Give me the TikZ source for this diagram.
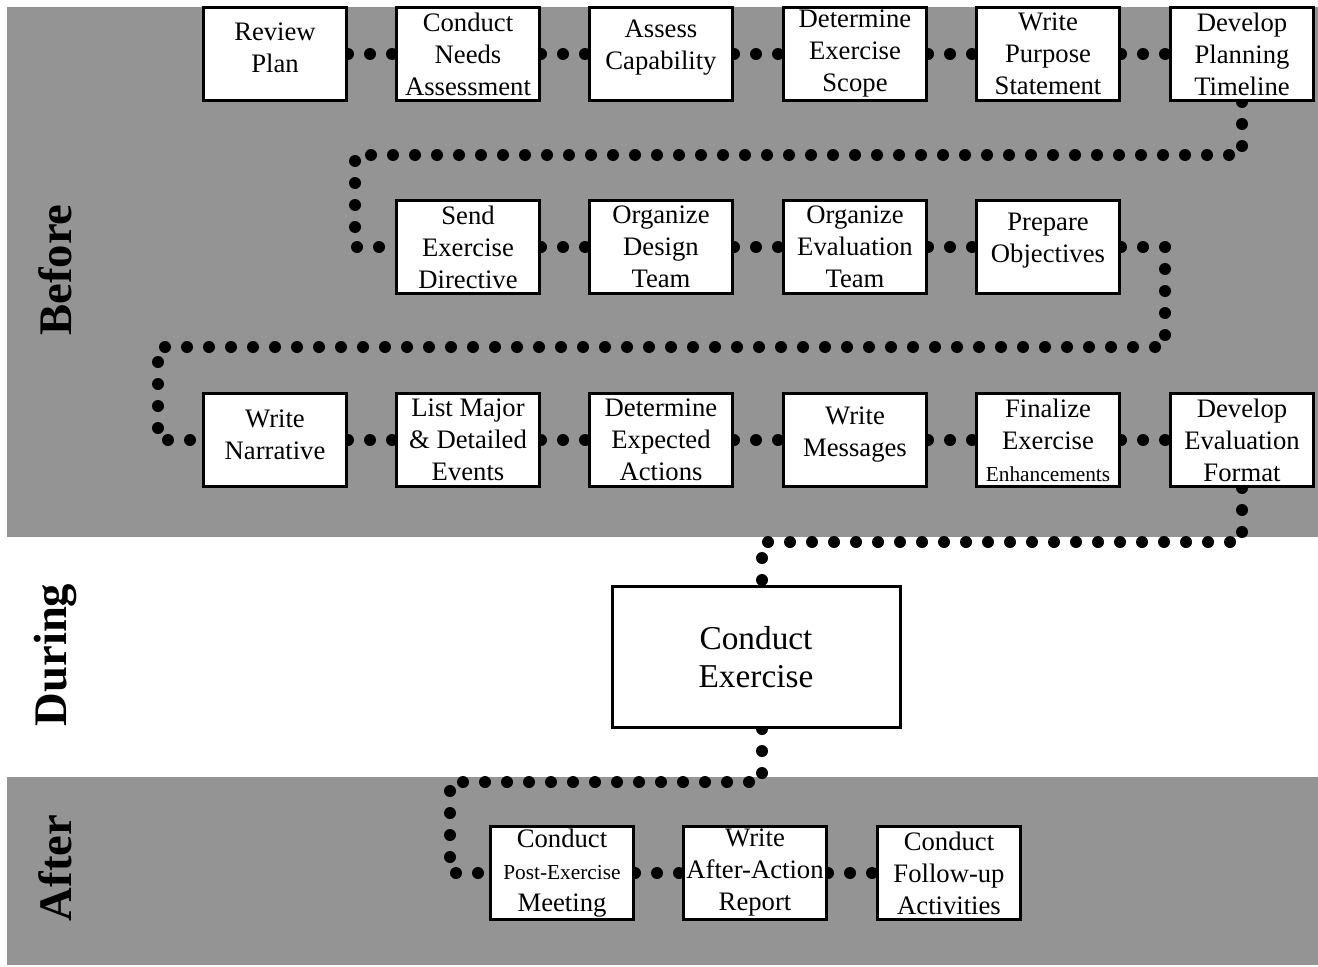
\documentclass[tikz,border=0pt]{standalone}
\usepackage{fontspec}
\setmainfont{Liberation Serif}
\newfontfamily\timesf{Liberation Serif}
\pgfdeclarelayer{back}
\pgfdeclarelayer{mid}
\pgfsetlayers{back,mid,main}
\tikzset{
  stepbox/.style={draw, line width=2.25pt, fill=white, minimum width=107.25pt,
    minimum height=69.75pt, inner sep=0pt, align=center,
    font=\fontsize{20}{24}\selectfont},
  twoline/.style={text height=14pt, text depth=10pt},
  bigbox/.style={draw, line width=2.25pt, fill=white, minimum width=216pt,
    minimum height=105.75pt, inner sep=0pt, align=center,
    font=\timesf\fontsize{25}{28}\selectfont},
  dotline/.style={line width=9pt, line cap=round, dash pattern=on 0pt off 16.5pt},
  band/.style={fill=black!42, draw=none},
  phase/.style={rotate=90, font=\bfseries\fontsize{35}{38}\selectfont}
}
\newcommand{\smalltxt}[1]{{\fontsize{16}{18}\selectfont #1}}
\begin{document}
\begin{tikzpicture}[x=0.75pt,y=-0.75pt]
\useasboundingbox (0,0) rectangle (1318,967);
\begin{pgfonlayer}{back}
  \fill[white] (0,0) rectangle (1318,967);
  \path[band] (7,7) rectangle (1318,537);
  \path[band] (7,777) rectangle (1318,965);
\end{pgfonlayer}
% phase labels
\node[phase] (before) at (55,270) {Before};
\node[phase] (during) at (55,655) {During};
\node[phase] (after) at (55,868) {After};
% row 1
\node[stepbox] (rp)  at (275,54)  {};
\node[align=center, font=\fontsize{20}{24}\selectfont] (rpt) at (275,48) {Review\\Plan};
\node[stepbox] (cna) at (468,54)  {Conduct\\Needs\\Assessment};
\node[stepbox] (ac)  at (661,54)  {};
\node[align=center, font=\fontsize{20}{24}\selectfont] (act) at (661,48) {Assess\\Capability};
\node[stepbox] (des) at (855,54)  {Determine\\Exercise\\Scope};
\node[stepbox] (wps) at (1048,54) {Write\\Purpose\\Statement};
\node[stepbox] (dpt) at (1242,54) {Develop\\Planning\\Timeline};
% row 2
\node[stepbox] (sed) at (468,247)  {Send\\Exercise\\Directive};
\node[stepbox] (odt) at (661,247)  {Organize\\Design\\Team};
\node[stepbox] (oet) at (855,247)  {Organize\\Evaluation\\Team};
\node[stepbox] (po)  at (1048,247) {};
\node[align=center, font=\fontsize{20}{24}\selectfont] (pot) at (1048,241) {Prepare\\Objectives};
% row 3
\node[stepbox] (wn)  at (275,440)  {};
\node[align=center, font=\fontsize{20}{24}\selectfont] (wnt) at (275,435) {Write\\Narrative};
\node[stepbox] (lm)  at (468,440)  {List Major\\\& Detailed\\Events};
\node[stepbox] (dea) at (661,440)  {Determine\\Expected\\Actions};
\node[stepbox] (wm)  at (855,440)  {};
\node[align=center, font=\fontsize{20}{24}\selectfont] (wmt) at (855,435) {Write\\Messages};
\node[stepbox] (fee) at (1048,440) {Finalize\\Exercise\\\smalltxt{Enhancements}};
\node[stepbox] (def) at (1242,440) {Develop\\Evaluation\\Format};
% during
\node[bigbox] (ce) at (756,657) {Conduct\\Exercise};
% after
\node[stepbox] (pem) at (562,873) {Conduct\\\smalltxt{Post-Exercise}\\Meeting};
\node[stepbox] (war) at (755,873) {Write\\After-Action\\Report};
\node[stepbox] (cfa) at (949,873) {Conduct\\Follow-up\\Activities};
% turning points
\coordinate (t1) at (355,155);
\coordinate (t2) at (1165,347);
\coordinate (t3) at (158,347);
\coordinate (t4) at (762,542);
\coordinate (t5) at (762,782);
\coordinate (t6) at (450,782);
\begin{pgfonlayer}{mid}
  \draw[dotline] (rp.east) -- (cna.west);
  \draw[dotline] (cna.east) -- (ac.west);
  \draw[dotline] (ac.east) -- (des.west);
  \draw[dotline] (des.east) -- (wps.west);
  \draw[dotline] (wps.east) -- (dpt.west);
  \draw[dotline] (dpt.south) |- (t1) |- (sed.west);
  \draw[dotline] (sed.east) -- (odt.west);
  \draw[dotline] (odt.east) -- (oet.west);
  \draw[dotline] (oet.east) -- (po.west);
  \draw[dotline] (po.east) -| (t2) -- (t3) |- (wn.west);
  \draw[dotline] (wn.east) -- (lm.west);
  \draw[dotline] (lm.east) -- (dea.west);
  \draw[dotline] (dea.east) -- (wm.west);
  \draw[dotline] (wm.east) -- (fee.west);
  \draw[dotline] (fee.east) -- (def.west);
  \draw[dotline] (def.south) |- (t4) -- (t4 |- ce.north);
  \draw[dotline] (t5 |- ce.south) -- (t5) -- (t6) |- (pem.west);
  \draw[dotline] (pem.east) -- (war.west);
  \draw[dotline] (war.east) -- (cfa.west);
\end{pgfonlayer}
\end{tikzpicture}
\end{document}
